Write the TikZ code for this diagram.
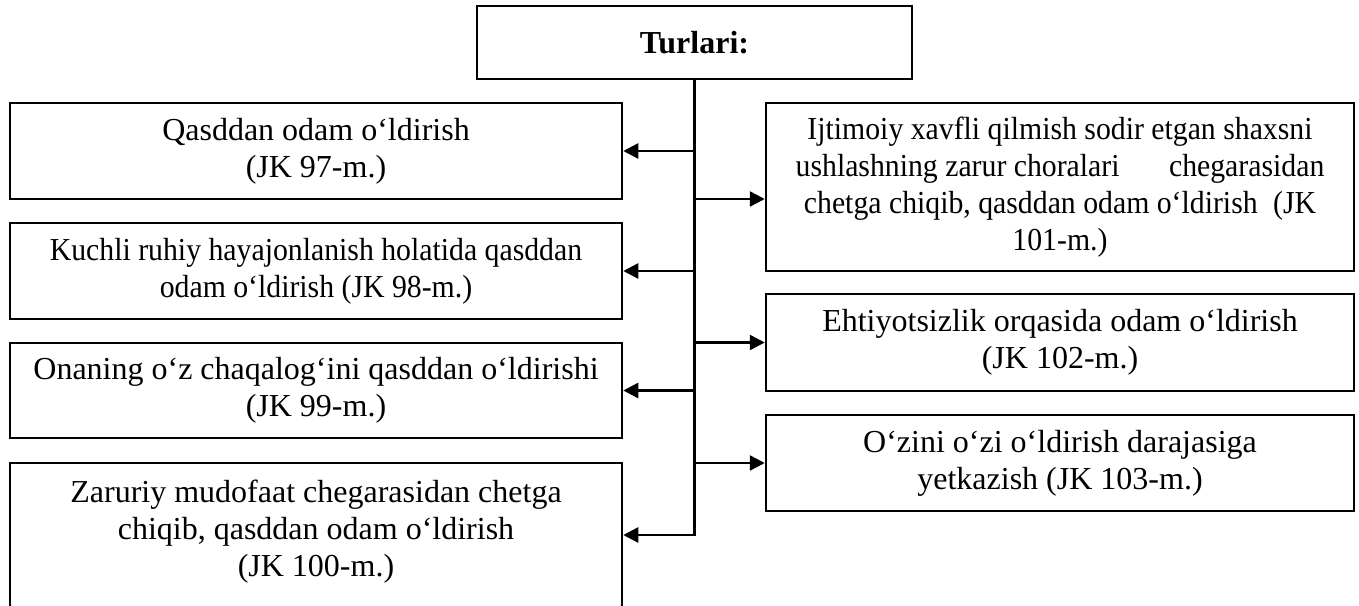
\documentclass[tikz,border=0pt]{standalone}
\usepackage{fontspec}
\setmainfont{Liberation Serif}
\newfontfamily\narrowfont{Liberation Serif}[FakeStretch=0.93]
\usetikzlibrary{arrows.meta}
\tikzset{
  boxnode/.style={draw=black, line width=2.5pt, inner sep=0pt, align=center,
    font=\fontsize{32}{37}\selectfont},
  narrowtext/.style={font=\narrowfont\fontsize{32}{37}\selectfont},
  txtnode/.style={inner sep=0pt, align=center, font=\fontsize{32}{37}\selectfont},
  conn/.style={line width=2.5pt},
  arr/.style={line width=2.5pt, -{Triangle[length=15pt,width=15pt]}}
}
\begin{document}
\begin{tikzpicture}[x=1pt,y=-1pt]
\useasboundingbox (0,0) rectangle (1359,605);
\fill[white] (0,0) rectangle (1359,605);
\clip (0,0) rectangle (1359,605);

\node[boxnode, minimum width=435pt, minimum height=73pt, font=\fontsize{32}{37}\selectfont\bfseries] (title) at (694.5,42.5) {Turlari:};

\node[boxnode, minimum width=612pt, minimum height=96pt] (L1) at (316,151) {Qasddan odam o‘ldirish\\(JK 97-m.)};
\node[boxnode, narrowtext, minimum width=612pt, minimum height=96pt] (L2) at (316,271) {Kuchli ruhiy hayajonlanish holatida qasddan\\odam o‘ldirish (JK 98-m.)};
\node[boxnode, minimum width=612pt, minimum height=95pt] (L3) at (316,390.5) {Onaning o‘z chaqalog‘ini qasddan o‘ldirishi\\(JK 99-m.)};
\node[boxnode, minimum width=612pt, minimum height=177pt] (L4) at (316,551.5) {};
\node[txtnode] (L4t) at (316,532) {Zaruriy mudofaat chegarasidan chetga\\chiqib, qasddan odam o‘ldirish\\(JK 100-m.)};

\node[boxnode, narrowtext, minimum width=588pt, minimum height=168pt] (R1) at (1060,187) {Ijtimoiy xavfli qilmish sodir etgan shaxsni\\ushlashning zarur choralari\hspace*{42pt} chegarasidan\\chetga chiqib, qasddan odam o‘ldirish\hspace*{8pt} (JK\\101-m.)};
\node[boxnode, minimum width=588pt, minimum height=97pt] (R2) at (1060,342.5) {Ehtiyotsizlik orqasida odam o‘ldirish\\(JK 102-m.)};
\node[boxnode, minimum width=588pt, minimum height=96pt] (R3) at (1060,463) {O‘zini o‘zi o‘ldirish darajasiga\\yetkazish (JK 103-m.)};

\coordinate (tbot) at (title.south |- 0,535);
\draw[conn] (title.south) -- ([yshift=-1.25pt]tbot);

\coordinate (j1) at (title.south |- L1.east);
\coordinate (j2) at (title.south |- L2.east);
\coordinate (j3) at (title.south |- L3.east);
\coordinate (j4) at (tbot);
\coordinate (k1) at (title.south |- 0,199);
\coordinate (k2) at (title.south |- R2.west);
\coordinate (k3) at (title.south |- R3.west);

\draw[arr] (j1) -- (j1 -| L1.east);
\draw[arr] (j2) -- (j2 -| L2.east);
\draw[arr] (j3) -- (j3 -| L3.east);
\draw[arr] (j4) -- (j4 -| L4.east);
\draw[arr] (k1) -- (k1 -| R1.west);
\draw[arr] (k2) -- (k2 -| R2.west);
\draw[arr] (k3) -- (k3 -| R3.west);
\end{tikzpicture}
\end{document}
